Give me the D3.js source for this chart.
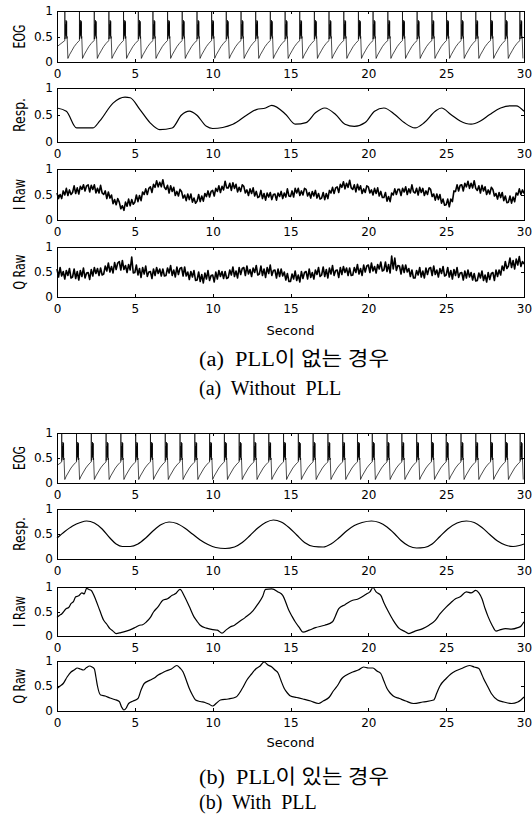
<!DOCTYPE html>
<html>
<head>
<meta charset="utf-8">
<script src="https://cdn.jsdelivr.net/npm/d3@7"></script>
<style>
body { margin: 0; background: #fff; }
svg text { font-family: "DejaVu Sans", sans-serif; }
</style>
</head>
<body>
<div id="chart"></div>
<script>
// ---- data ----
var xTicks = [0, 5, 10, 15, 20, 25, 30];
var yTicks = [0, 0.5, 1];
var yLabels = ["EOG", "Resp.", "I Raw", "Q Raw"];
var xLabel = "Second";
var captions = [["(a)  PLL이 없는 경우", "(a)  Without  PLL"],
                ["(b)  PLL이 있는 경우", "(b)  With  PLL"]];

// ECG: R-peak times and one beat shape (time after R, value)
var ecgBeatsA = [0.5, 1.44, 2.39, 3.33, 4.27, 5.22, 6.16, 7.1, 8.04, 8.99, 9.93, 10.87, 11.82, 12.76, 13.7, 14.65,
                 15.59, 16.53, 17.47, 18.42, 19.36, 20.3, 21.25, 22.19, 23.13, 24.08, 25.02, 25.96, 26.9, 27.85, 28.79, 29.73];
var ecgBeatsB = [0.3, 1.25, 2.2, 3.15, 4.1, 5.05, 6.0, 6.95, 7.9, 8.85, 9.8, 10.75, 11.7, 12.65, 13.6, 14.55,
                 15.5, 16.45, 17.4, 18.35, 19.3, 20.25, 21.2, 22.15, 23.1, 24.05, 25.0, 25.95, 26.9, 27.85, 28.8, 29.75];
var beatT = [0, 0.004, 0.008, 0.05, 0.06, 0.07, 0.08, 0.09, 0.1, 0.11, 0.12, 0.13, 0.15, 0.2, 0.3, 0.45, 0.6, 0.75, 0.9];
var beatV = [0.42, 1.0, 0.45, 0.5, 0.74, 0.52, 0.82, 0.56, 0.78, 0.5, 0.8, 0.46, 0.5, 0.07, 0.14, 0.22, 0.3, 0.36, 0.41];

var respA = [[0,0.63],[0.6,0.57],[1.26,0.26],[2.3,0.26],[2.75,0.39],[3.6,0.72],[4.37,0.83],[4.7,0.82],[5.33,0.6],
  [5.97,0.36],[6.6,0.23],[7.4,0.26],[8.0,0.5],[8.5,0.57],[8.97,0.5],[9.6,0.29],[10.0,0.25],[11.3,0.33],[12.2,0.5],
  [12.8,0.6],[13.4,0.63],[13.8,0.68],[14.7,0.51],[15.3,0.33],[16.0,0.36],[16.6,0.54],[17.2,0.63],[17.9,0.51],
  [18.5,0.33],[19.1,0.29],[19.8,0.36],[20.4,0.57],[21.0,0.63],[21.7,0.51],[22.3,0.36],[23.0,0.26],[23.6,0.36],
  [24.3,0.57],[24.7,0.63],[25.3,0.51],[25.9,0.39],[26.6,0.33],[27.2,0.39],[27.8,0.51],[28.5,0.63],[29.1,0.67],
  [29.5,0.67],[30,0.57]];

// raw channels without PLL, one sample every 0.1 s
var iRawA = [
  .53,.42,.50,.42,.57,.49,.62,.48,.59,.50, .54,.67,.52,.63,.51,.66,.60,.69,.57,.67,
  .69,.55,.68,.60,.69,.53,.62,.53,.68,.53, .50,.57,.42,.55,.43,.49,.32,.40,.30,.42,
  .35,.22,.28,.19,.35,.27,.41,.28,.40,.31, .35,.49,.36,.48,.38,.55,.50,.61,.50,.62,
  .65,.54,.70,.64,.77,.65,.74,.65,.79,.64, .60,.68,.53,.67,.56,.64,.48,.56,.47,.60,
  .56,.43,.49,.38,.51,.40,.51,.35,.43,.33, .37,.50,.36,.47,.37,.52,.46,.57,.45,.56,
  .58,.47,.62,.56,.67,.54,.66,.59,.76,.63, .63,.72,.58,.73,.62,.70,.55,.64,.56,.69,
  .66,.53,.59,.48,.61,.52,.63,.47,.56,.44, .46,.58,.42,.52,.39,.53,.45,.54,.40,.50,
  .51,.39,.53,.46,.56,.42,.53,.45,.61,.47, .46,.57,.45,.62,.53,.62,.48,.57,.49,.62,
  .60,.47,.54,.43,.56,.47,.58,.43,.52,.41, .43,.54,.40,.52,.42,.58,.53,.64,.52,.63,
  .65,.54,.70,.64,.75,.61,.72,.64,.78,.63, .60,.69,.55,.70,.59,.67,.52,.61,.54,.67,
  .65,.53,.59,.49,.62,.52,.63,.47,.56,.44, .44,.54,.37,.46,.36,.53,.49,.61,.50,.60,
  .60,.48,.62,.55,.65,.50,.61,.53,.69,.55, .53,.62,.49,.64,.54,.62,.48,.57,.50,.63,
  .60,.46,.51,.39,.51,.40,.50,.33,.41,.29, .30,.41,.26,.41,.36,.57,.56,.69,.57,.68,
  .69,.57,.72,.65,.76,.62,.72,.63,.77,.62, .58,.67,.53,.68,.57,.65,.50,.59,.51,.64,
  .60,.47,.52,.41,.54,.44,.54,.38,.47,.34, .35,.47,.33,.45,.36,.53,.49,.61,.50,.59,
  .52];
var qRawA = [
  .56,.40,.59,.42,.51,.36,.53,.43,.57,.38, .40,.56,.37,.51,.34,.53,.41,.58,.38,.48,
  .49,.35,.55,.42,.59,.47,.57,.43,.58,.44, .46,.62,.52,.68,.50,.61,.48,.69,.55,.68,
  .71,.54,.73,.55,.63,.49,.65,.54,.80,.48, .49,.64,.44,.57,.39,.59,.46,.62,.41,.50,
  .51,.37,.56,.43,.59,.47,.56,.42,.56,.42, .43,.58,.48,.63,.43,.54,.40,.60,.45,.57,
  .59,.42,.60,.42,.50,.35,.51,.40,.53,.33, .34,.50,.31,.45,.28,.48,.36,.53,.33,.43,
  .44,.30,.50,.36,.53,.41,.51,.37,.51,.37, .39,.54,.44,.60,.41,.52,.38,.59,.45,.57,
  .59,.43,.62,.46,.55,.41,.58,.49,.63,.44, .46,.62,.43,.56,.39,.59,.47,.64,.43,.53,
  .54,.38,.56,.41,.56,.42,.50,.34,.47,.31, .31,.46,.36,.52,.33,.44,.30,.51,.37,.49,
  .51,.36,.56,.39,.49,.36,.54,.45,.59,.41, .44,.60,.41,.55,.38,.58,.46,.63,.43,.53,
  .54,.39,.59,.45,.61,.49,.58,.43,.58,.43, .44,.59,.49,.65,.46,.57,.43,.64,.50,.62,
  .64,.49,.68,.52,.61,.48,.65,.56,.70,.52, .54,.70,.51,.65,.48,.82,.56,.78,.53,.63,
  .62,.46,.64,.49,.64,.50,.57,.41,.54,.38, .38,.53,.44,.59,.40,.52,.38,.58,.45,.57,
  .59,.43,.62,.45,.54,.40,.57,.47,.61,.42, .44,.59,.40,.53,.36,.55,.43,.59,.39,.48,
  .49,.34,.52,.38,.54,.40,.49,.34,.47,.32, .33,.48,.38,.52,.33,.44,.30,.49,.35,.47,
  .49,.33,.54,.41,.54,.44,.62,.53,.71,.57, .62,.78,.59,.73,.56,.76,.64,.81,.61,.71,
  .66];
var rawStep = 0.1;

var respB = [[0,0.42],[0.5,0.55],[1.0,0.66],[1.5,0.73],[1.9,0.76],[2.4,0.72],[2.9,0.6],[3.4,0.42],[3.8,0.3],
  [4.2,0.25],[4.7,0.25],[5.2,0.3],[5.7,0.42],[6.2,0.57],[6.7,0.69],[7.2,0.74],[7.7,0.71],[8.2,0.62],[8.7,0.5],
  [9.2,0.38],[9.7,0.29],[10.2,0.23],[10.8,0.21],[11.4,0.24],[11.9,0.33],[12.4,0.47],[12.9,0.62],[13.4,0.73],
  [13.9,0.78],[14.4,0.74],[14.9,0.63],[15.4,0.48],[15.9,0.33],[16.5,0.25],[17.1,0.24],[17.6,0.3],[18.1,0.42],
  [18.6,0.56],[19.1,0.67],[19.6,0.73],[20.2,0.76],[20.7,0.73],[21.2,0.64],[21.7,0.5],[22.1,0.37],[22.6,0.26],
  [23.1,0.22],[23.6,0.23],[24.1,0.3],[24.6,0.45],[25.1,0.6],[25.7,0.72],[26.3,0.76],[26.8,0.73],[27.3,0.63],
  [27.8,0.49],[28.3,0.36],[28.8,0.28],[29.3,0.25],[29.7,0.27],[30,0.3]];
var iRawB = [[0,0.38],[0.15,0.42],[0.3,0.45],[0.6,0.56],[0.75,0.58],[0.9,0.66],[1.05,0.7],[1.2,0.8],[1.4,0.82],
  [1.6,0.88],[1.75,0.86],[1.9,0.97],[2.05,0.95],[2.2,0.93],[2.5,0.73],[2.75,0.52],[3.0,0.32],[3.2,0.24],[3.4,0.15],
  [3.6,0.1],[3.8,0.05],[4.1,0.07],[4.45,0.1],[4.8,0.14],[5.05,0.18],[5.3,0.22],[5.5,0.23],[5.75,0.29],[6.0,0.38],
  [6.2,0.49],[6.5,0.6],[6.8,0.73],[7.1,0.76],[7.4,0.83],[7.6,0.86],[7.9,0.95],[8.2,0.8],[8.5,0.6],[8.8,0.39],
  [9.0,0.3],[9.2,0.22],[9.6,0.16],[10.0,0.13],[10.3,0.12],[10.6,0.06],[10.85,0.12],[11.1,0.18],[11.4,0.22],
  [11.7,0.29],[12.1,0.38],[12.6,0.52],[12.9,0.65],[13.2,0.8],[13.4,0.95],[13.8,0.96],[14.2,0.9],[14.5,0.83],
  [14.9,0.52],[15.1,0.4],[15.3,0.29],[15.55,0.18],[15.8,0.08],[16.2,0.12],[16.6,0.17],[17.2,0.22],[17.7,0.29],
  [17.9,0.42],[18.1,0.56],[18.5,0.64],[19.0,0.73],[19.3,0.75],[19.6,0.8],[19.9,0.86],[20.1,0.9],[20.3,0.99],
  [20.5,0.9],[20.8,0.83],[21.0,0.68],[21.3,0.49],[21.6,0.32],[22.0,0.15],[22.3,0.1],[22.6,0.05],[23.0,0.1],
  [23.5,0.15],[23.9,0.22],[24.3,0.32],[24.6,0.45],[25.0,0.59],[25.3,0.68],[25.6,0.76],[25.9,0.8],[26.3,0.9],
  [26.6,0.88],[26.9,0.93],[27.1,0.88],[27.3,0.76],[27.5,0.56],[27.7,0.39],[27.95,0.22],[28.2,0.1],[28.5,0.13],
  [28.8,0.15],[29.2,0.14],[29.6,0.17],[29.8,0.2],[30,0.29]];
var qRawB = [[0,0.45],[0.2,0.5],[0.4,0.55],[0.65,0.68],[0.9,0.78],[1.1,0.82],[1.3,0.86],[1.5,0.84],[1.7,0.82],
  [1.9,0.87],[2.1,0.9],[2.25,0.88],[2.4,0.84],[2.5,0.68],[2.6,0.5],[2.8,0.32],[3.1,0.3],[3.4,0.26],[3.7,0.23],
  [4.0,0.19],[4.15,0.08],[4.3,0.02],[4.45,0.06],[4.6,0.15],[4.9,0.2],[5.2,0.25],[5.4,0.42],[5.6,0.55],[6.0,0.62],
  [6.25,0.66],[6.5,0.72],[6.75,0.76],[7.0,0.8],[7.35,0.84],[7.7,0.91],[7.9,0.86],[8.1,0.78],[8.3,0.62],[8.5,0.45],
  [8.7,0.32],[8.9,0.22],[9.2,0.19],[9.5,0.17],[9.75,0.14],[10.0,0.1],[10.25,0.16],[10.5,0.22],[11.0,0.24],
  [11.5,0.28],[11.9,0.45],[12.2,0.62],[12.5,0.74],[12.8,0.85],[13.05,0.9],[13.3,0.98],[13.55,0.92],[13.8,0.88],
  [14.0,0.82],[14.2,0.76],[14.4,0.6],[14.6,0.45],[14.8,0.36],[15.0,0.3],[15.4,0.27],[15.8,0.24],[16.3,0.2],
  [16.8,0.15],[17.1,0.2],[17.5,0.28],[17.75,0.4],[18.0,0.5],[18.3,0.65],[18.6,0.72],[19.0,0.78],[19.35,0.82],
  [19.7,0.88],[20.0,0.86],[20.3,0.86],[20.55,0.8],[20.8,0.75],[21.0,0.6],[21.2,0.45],[21.4,0.36],[21.6,0.3],
  [22.0,0.25],[22.4,0.2],[22.9,0.15],[23.5,0.18],[24.2,0.22],[24.4,0.36],[24.6,0.5],[25.0,0.65],[25.3,0.74],
  [25.6,0.8],[26.0,0.85],[26.5,0.91],[26.8,0.88],[27.1,0.85],[27.25,0.76],[27.4,0.65],[27.65,0.5],[27.9,0.35],
  [28.3,0.22],[28.7,0.18],[29.2,0.15],[29.6,0.18],[29.8,0.22],[30,0.28]];

// ---- build series ----
function ecgSeries(beats, start) {
  var pts = [[0, start]];
  beats.forEach(function(T) {
    beatT.forEach(function(dt, i) {
      if (T + dt <= 30) pts.push([T + dt, beatV[i]]);
    });
  });
  return pts;
}
function sampled(vals) {
  return vals.map(function(v, i) { return [i * rawStep, v]; });
}
var series = [
  ecgSeries(ecgBeatsA, 0.3), respA, sampled(iRawA), sampled(qRawA),
  ecgSeries(ecgBeatsB, 0.35), respB, iRawB, qRawB
];
var kind = ["ecg", "smooth", "noisy", "noisy", "ecg", "smooth", "smooth", "smooth"];

// ---- layout ----
var width = 532, height = 815;
var plotLeft = 57, plotRight = 524;
var panelTop = [11, 88, 169, 247, 433, 509, 587, 661];
var panelBottom = [62, 142, 220, 297, 483, 559, 636, 711];
var secondY = [335, 747];
var captionY = [[366, 395], [784, 809]];
var captionLen = [190, 190];   // width of the Korean caption line
var yLabelLen = [24, 34, 31, 35];

var svg = d3.select("#chart").append("svg")
    .attr("width", width)
    .attr("height", height);

var x = d3.scaleLinear().domain([0, 30]).range([plotLeft, plotRight]);

series.forEach(function(data, p) {
  var y = d3.scaleLinear().domain([0, 1]).range([panelBottom[p], panelTop[p]]);
  var g = svg.append("g");

  var line = d3.line()
      .x(function(d) { return x(d[0]); })
      .y(function(d) { return y(d[1]); });
  if (kind[p] === "smooth") line.curve(d3.curveMonotoneX);

  g.append("path")
      .datum(data)
      .attr("fill", "none")
      .attr("stroke", "#000")
      .attr("stroke-width", kind[p] === "noisy" ? 1.6 : (kind[p] === "ecg" ? 0.7 : 1.2))
      .attr("stroke-linejoin", "round")
      .attr("d", line);

  // box
  g.append("rect")
      .attr("x", plotLeft + 0.5)
      .attr("y", panelTop[p] + 0.5)
      .attr("width", plotRight - plotLeft)
      .attr("height", panelBottom[p] - panelTop[p])
      .attr("fill", "none")
      .attr("stroke", "#000")
      .attr("shape-rendering", "crispEdges");

  var bottom = g.append("g")
      .attr("transform", "translate(0," + panelBottom[p] + ")")
      .call(d3.axisBottom(x).tickValues(xTicks).tickSizeInner(-3).tickSizeOuter(0).tickPadding(7));
  var top = g.append("g")
      .attr("transform", "translate(0," + panelTop[p] + ")")
      .call(d3.axisTop(x).tickValues(xTicks).tickSizeInner(-3).tickSizeOuter(0).tickFormat(""));
  var left = g.append("g")
      .attr("transform", "translate(" + plotLeft + ",0)")
      .call(d3.axisLeft(y).tickValues(yTicks).tickSizeInner(-3).tickSizeOuter(0).tickPadding(4)
        .tickFormat(function(d) { return d === 0.5 ? "0.5" : d; }));
  var right = g.append("g")
      .attr("transform", "translate(" + plotRight + ",0)")
      .call(d3.axisRight(y).tickValues(yTicks).tickSizeInner(-3).tickSizeOuter(0).tickFormat(""));

  [bottom, top, left, right].forEach(function(a) {
    a.select(".domain").remove();
    a.selectAll("line").attr("shape-rendering", "crispEdges");
    a.selectAll("text").attr("font-size", 12).attr("font-family", "DejaVu Sans").attr("fill", "#000");
  });

  // y label
  svg.append("text")
      .attr("transform", "translate(25," + (panelTop[p] + panelBottom[p]) / 2 + ") rotate(-90)")
      .attr("text-anchor", "middle")
      .attr("font-size", 15)
      .attr("textLength", yLabelLen[p % 4])
      .attr("lengthAdjust", "spacingAndGlyphs")
      .text(yLabels[p % 4]);
});

// x label and captions
[0, 1].forEach(function(k) {
  svg.append("text")
      .attr("x", (plotLeft + plotRight) / 2)
      .attr("y", secondY[k])
      .attr("text-anchor", "middle")
      .attr("font-size", 13)
      .attr("textLength", 48)
      .attr("lengthAdjust", "spacingAndGlyphs")
      .text(xLabel);
  captions[k].forEach(function(c, j) {
    var t = svg.append("text")
        .attr("x", 199)
        .attr("y", captionY[k][j])
        .attr("font-size", 20)
        .style("font-family", '"Liberation Serif", "Noto Sans CJK KR", serif')
        .style("white-space", "pre")
        .text(c);
    if (j === 0) t.attr("textLength", captionLen[k]).attr("lengthAdjust", "spacingAndGlyphs");
  });
});
</script>
</body>
</html>
